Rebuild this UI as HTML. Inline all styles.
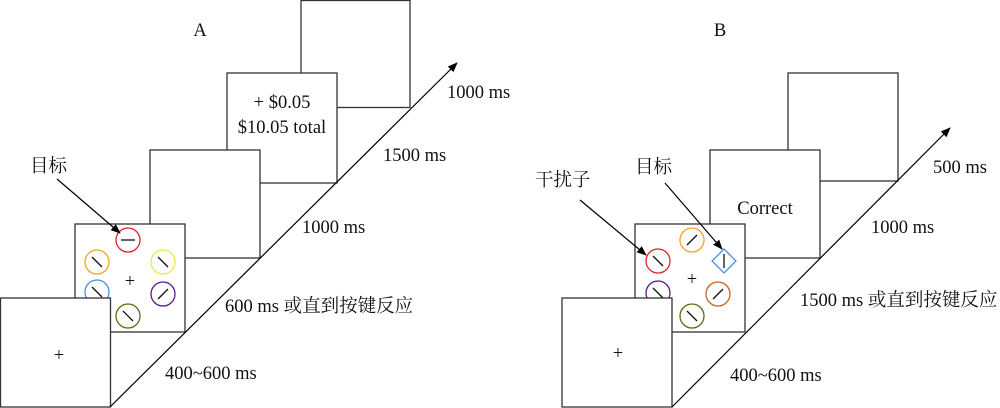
<!DOCTYPE html>
<html><head><meta charset="utf-8"><style>
html,body{margin:0;padding:0;background:#fff;width:1000px;height:408px;overflow:hidden}
text{font-family:'Liberation Serif','Noto Serif CJK SC',serif;font-size:18.5px;fill:#111}
</style></head><body>
<svg width="1000" height="408" viewBox="0 0 1000 408" xmlns="http://www.w3.org/2000/svg">
<defs><marker id="ah" markerWidth="10" markerHeight="10" refX="9" refY="5" orient="auto" markerUnits="userSpaceOnUse"><path d="M0,1 L10,5 L0,9 Z" fill="#000"/></marker></defs>
<g fill="#fff" stroke="#333" stroke-width="1.3">
<rect x="301" y="0.5" width="109" height="107"/>
<rect x="227" y="73" width="110" height="110"/>
<rect x="150" y="150" width="110" height="108"/>
<rect x="75" y="224" width="110" height="108"/>
</g>
<g fill="none" stroke-width="1.3">
<circle cx="128" cy="240" r="12" stroke="#e0242a"/>
<circle cx="97" cy="262" r="12" stroke="#f5a623"/>
<circle cx="163" cy="262" r="12" stroke="#e8e84a"/>
<circle cx="97" cy="292" r="12" stroke="#4a90e2"/>
<circle cx="163" cy="294" r="12" stroke="#5b1a8a"/>
<circle cx="128" cy="316" r="12" stroke="#5a6e12"/>
</g>
<g stroke="#111" stroke-width="1.3">
<line x1="121" y1="240" x2="135" y2="240"/>
<line x1="92" y1="257" x2="102" y2="267"/>
<line x1="158" y1="257" x2="168" y2="267"/>
<line x1="92" y1="287" x2="102" y2="297"/>
<line x1="158" y1="299" x2="168" y2="289"/>
<line x1="123" y1="311" x2="133" y2="321"/>
</g>
<rect x="0.5" y="298" width="110" height="109" fill="#fff" stroke="#333" stroke-width="1.3"/>
<line x1="110" y1="407" x2="457" y2="63" stroke="#000" stroke-width="1.2" marker-end="url(#ah)"/>
<line x1="57" y1="179" x2="120" y2="233" stroke="#000" stroke-width="1.2" marker-end="url(#ah)"/>
<g font-family="Liberation Serif, Noto Serif CJK SC, serif" font-size="18.5">
<text x="200" y="36" text-anchor="middle">A</text>
<text x="30" y="172">目标</text>
<text x="282" y="108" text-anchor="middle">+ $0.05</text>
<text x="282" y="133" text-anchor="middle">$10.05 total</text>
<text x="130" y="287" text-anchor="middle" font-size="20">+</text>
<text x="59" y="361" text-anchor="middle" font-size="20">+</text>
<text x="165" y="379">400~600 ms</text>
<text x="225" y="312">600 ms 或直到按键反应</text>
<text x="302" y="233">1000 ms</text>
<text x="383" y="161">1500 ms</text>
<text x="447" y="98">1000 ms</text>
</g>

<g fill="#fff" stroke="#333" stroke-width="1.3">
<rect x="788" y="73" width="110" height="108"/>
<rect x="710" y="150" width="110" height="108"/>
<rect x="635" y="224" width="110" height="108"/>
</g>
<g fill="none" stroke-width="1.3">
<circle cx="692" cy="240" r="12" stroke="#f5a623"/>
<circle cx="658" cy="261" r="12" stroke="#e0242a"/>
<polygon points="724,249 736,261 724,273 712,261" stroke="#4a90e2"/>
<circle cx="658" cy="293" r="12" stroke="#5b1a8a"/>
<circle cx="718" cy="294" r="12" stroke="#c8641a"/>
<circle cx="692" cy="316" r="12" stroke="#5a6e12"/>
</g>
<g stroke="#111" stroke-width="1.3">
<line x1="687" y1="245" x2="697" y2="235"/>
<line x1="653" y1="256" x2="663" y2="266"/>
<line x1="724" y1="254" x2="724" y2="268"/>
<line x1="653" y1="288" x2="663" y2="298"/>
<line x1="713" y1="299" x2="723" y2="289"/>
<line x1="687" y1="311" x2="697" y2="321"/>
</g>
<rect x="562" y="298" width="110" height="109" fill="#fff" stroke="#333" stroke-width="1.3"/>
<line x1="672" y1="407" x2="950" y2="128" stroke="#000" stroke-width="1.2" marker-end="url(#ah)"/>
<line x1="580" y1="200" x2="646" y2="255" stroke="#000" stroke-width="1.2" marker-end="url(#ah)"/>
<line x1="665" y1="183" x2="722" y2="249" stroke="#000" stroke-width="1.2" marker-end="url(#ah)"/>
<g font-family="Liberation Serif, Noto Serif CJK SC, serif" font-size="18.5">
<text x="720" y="36" text-anchor="middle">B</text>
<text x="535" y="186">干扰子</text>
<text x="635" y="173">目标</text>
<text x="765" y="214" text-anchor="middle">Correct</text>
<text x="692" y="285" text-anchor="middle" font-size="20">+</text>
<text x="618" y="359" text-anchor="middle" font-size="20">+</text>
<text x="730" y="381">400~600 ms</text>
<text x="800" y="306">1500 ms 或直到按键反应</text>
<text x="871" y="233">1000 ms</text>
<text x="933" y="173">500 ms</text>
</g>
</svg>
</body></html>
